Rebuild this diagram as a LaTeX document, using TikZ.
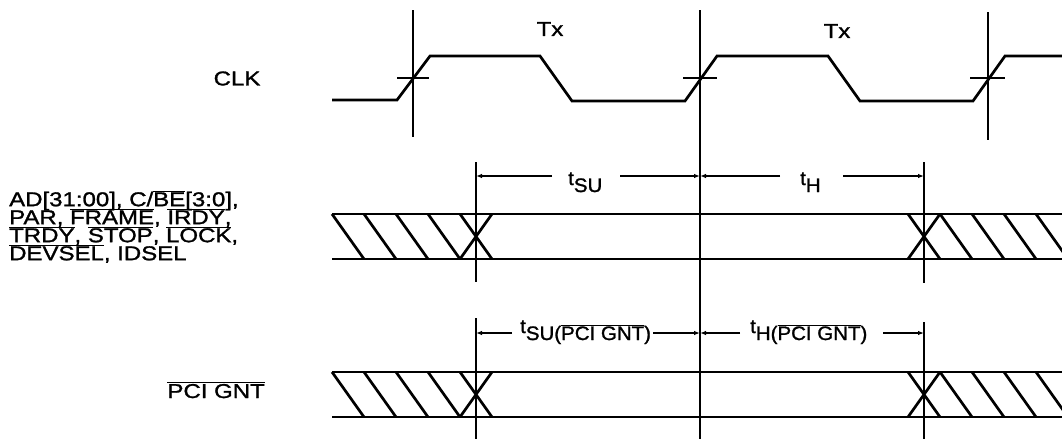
\documentclass[tikz,border=0pt]{standalone}
\usepackage{fontspec}
\setmainfont{Liberation Sans}
\newfontfamily\lblf{Liberation Sans}[FakeStretch=1.2,FakeBold=1.3]
\newfontfamily\lblg{Liberation Sans}[FakeStretch=1.05,FakeBold=1.3]
\usetikzlibrary{arrows.meta}
\newcommand\ovl[1]{$\overline{\mbox{#1}}$}
\newcommand\lblsetup{\lblf\fontsize{20}{18}\selectfont\lineskiplimit=-50pt\relax\lineskip=0pt\relax}
\newcommand\tlblsetup{\lblg\fontsize{19.5}{19.5}\selectfont}
\begin{document}
\begin{tikzpicture}[x=1pt,y=-1pt,
  sig/.style={line width=2.7pt,line join=miter,line cap=butt},
  refl/.style={line width=1.1pt},
  dimar/.style={line width=1.1pt,-{Latex[length=6pt,width=4.5pt]}},
  lbl/.style={inner sep=0pt,font=\lblsetup},
  tlbl/.style={inner sep=0pt,font=\tlblsetup}]
\useasboundingbox (0,0) rectangle (1062,439);
% reference lines
\coordinate (v1t) at (413,10); \coordinate (v1b) at (413,137);
\coordinate (v2t) at (700,10); \coordinate (v2b) at (700,439);
\coordinate (v3t) at (988,12); \coordinate (v3b) at (988,140);
\coordinate (sat) at (476,162); \coordinate (sab) at (476,282);
\coordinate (sbt) at (476,318); \coordinate (sbb) at (476,439);
\coordinate (hat) at (924,162); \coordinate (hab) at (924,283);
\coordinate (hbt) at (924,322); \coordinate (hbb) at (924,439);
\draw[refl] (v1t) -- (v1b);
\draw[refl] (v2t) -- (v2b);
\draw[refl] (v3t) -- (v3b);
\draw[refl] (sat) -- (sab);
\draw[refl] (sbt) -- (sbb);
\draw[refl] (hat) -- (hab);
\draw[refl] (hbt) -- (hbb);
% clock
\draw[sig] (332,100) -- (397,100) -- (430,56) -- (540,56) -- (572,101) -- (685,101)
  -- (717,56) -- (828,56) -- (860,101) -- (973,101) -- (1005,56) -- (1062,56);
\draw[refl] (397,78) -- (429,78);
\draw[refl] (683,78) -- (717,78);
\draw[refl] (970,78) -- (1005,78);
% buses
\foreach \yt/\yb in {214/259, 372/417}{
  \begin{scope}
  \clip (0,0) rectangle (1062,439);
  \draw[sig] (332,\yt) -- (1062,\yt);
  \draw[sig] (332,\yb) -- (1062,\yb);
  \foreach \x in {332,364,396,428,460}{\draw[sig] (\x,\yt) -- (\x+32,\yb);}
  \draw[sig] (460,\yb) -- (492,\yt);
  \draw[sig] (908,\yt) -- (940,\yb);
  \draw[sig] (908,\yb) -- (940,\yt);
  \foreach \x in {940,972,1004,1036}{\draw[sig] (\x,\yt) -- (\x+32,\yb);}
  \end{scope}
}
% labels
\node[lbl] (tx1) at (550,29) {Tx};
\node[lbl] (tx2) at (837,31) {Tx};
\node[lbl] (clk) at (237,78.5) {CLK};
\node[lbl,anchor=north west,align=left] (bus) at (9,186)
  {\rule{0pt}{20pt}AD[31:00], C/\ovl{BE}[3:0],\\
   PAR, \ovl{FRAME}, \ovl{IRDY},\\
   \ovl{TRDY}, \ovl{STOP}, \ovl{LOCK},\\
   \ovl{DEVSEL}, IDSEL};
\node[lbl,anchor=base east] (gnt) at (265,398) {\ovl{PCI GNT}};
% timing labels
\node[tlbl,anchor=base west] (tsu) at (568,185) {t\raisebox{-7pt}{SU}};
\node[tlbl,anchor=base west] (th) at (800,185) {t\raisebox{-7pt}{H}};
\node[tlbl,anchor=base west] (tsug) at (520,333) {t\raisebox{-7pt}{SU(\ovl{PCI GNT})}};
\node[tlbl,anchor=base west] (thg) at (750,333) {t\raisebox{-7pt}{H(\ovl{PCI GNT})}};
% dimension lines
\coordinate (a1) at (552,176); \coordinate (a1t) at (476,176);
\coordinate (a2) at (620,176); \coordinate (a2t) at (700,176);
\coordinate (a3) at (780,176); \coordinate (a3t) at (700,176);
\coordinate (a4) at (843,176); \coordinate (a4t) at (924,176);
\draw[dimar] (a1) -- (a1t);
\draw[dimar] (a2) -- (a2t);
\draw[dimar] (a3) -- (a3t);
\draw[dimar] (a4) -- (a4t);
\coordinate (b1) at (512,333); \coordinate (b1t) at (476,333);
\coordinate (b2) at (653,333); \coordinate (b2t) at (700,333);
\coordinate (b3) at (740,333); \coordinate (b3t) at (700,333);
\coordinate (b4) at (883,333); \coordinate (b4t) at (924,333);
\draw[dimar] (b1) -- (b1t);
\draw[dimar] (b2) -- (b2t);
\draw[dimar] (b3) -- (b3t);
\draw[dimar] (b4) -- (b4t);
\end{tikzpicture}
\end{document}
